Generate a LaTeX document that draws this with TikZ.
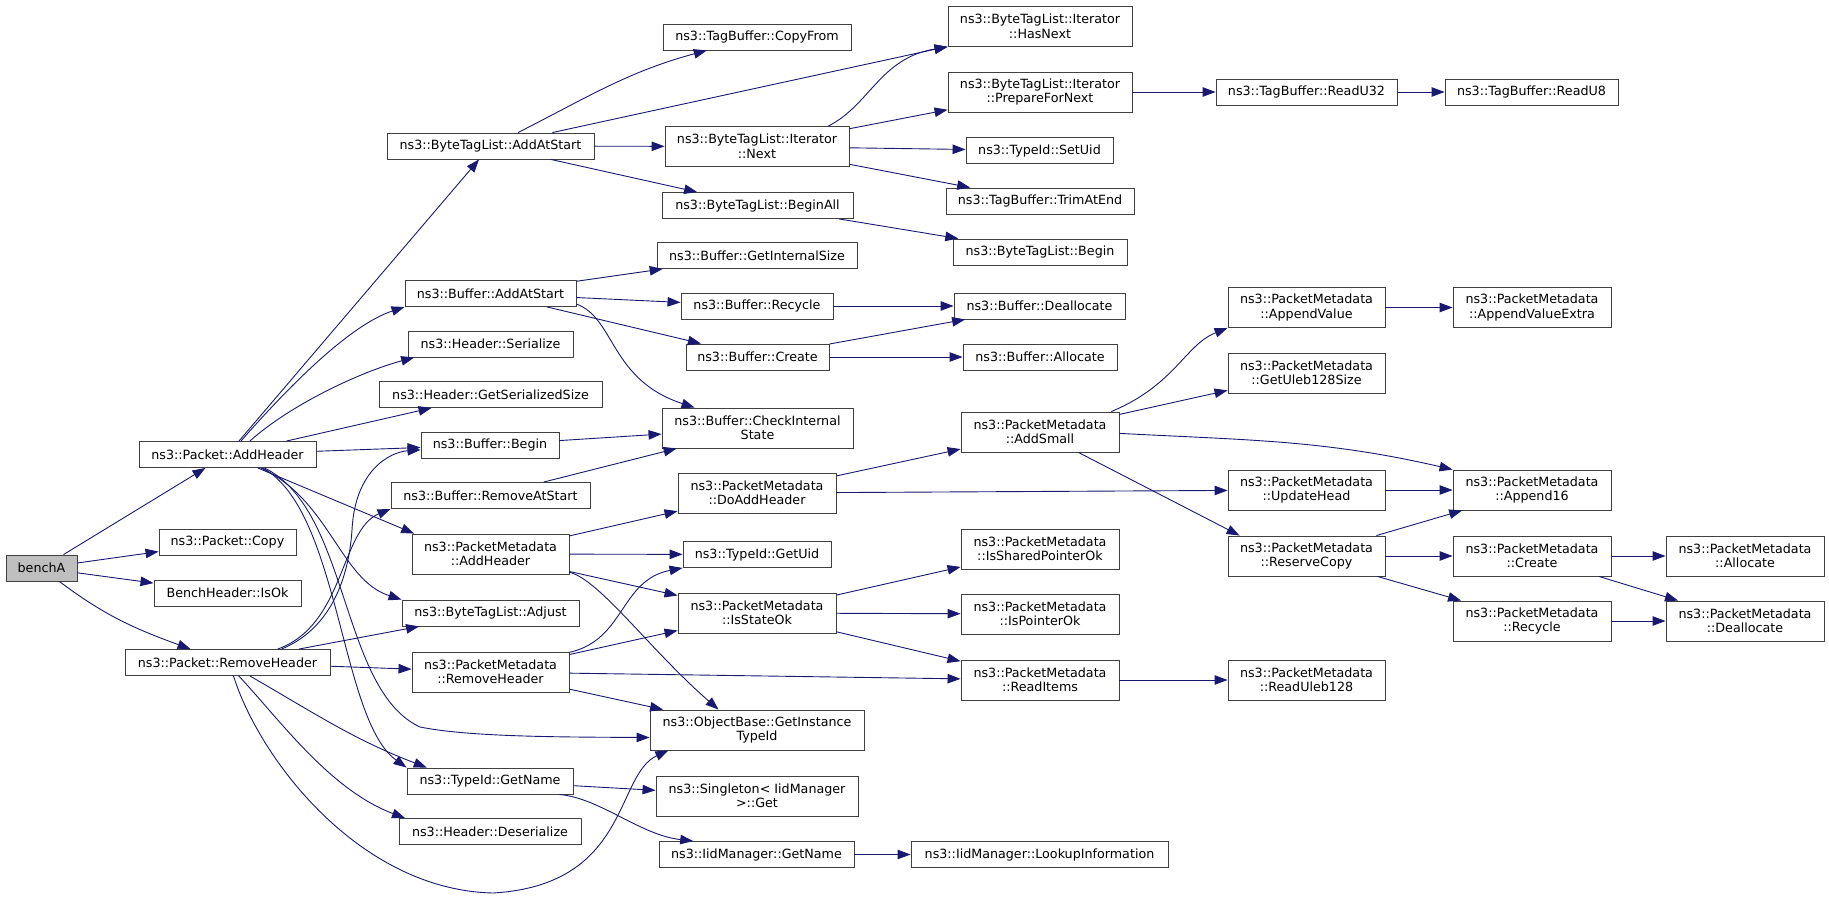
\documentclass[tikz,border=0pt]{standalone}
\usepackage{fontspec}
\setmainfont{DejaVu Sans}
\usetikzlibrary{arrows.meta}
\definecolor{edgeblue}{HTML}{191970}

\begin{document}
\begin{tikzpicture}[x=1pt, y=-1pt,
  fn/.style={draw=black!75, line width=0.9pt, fill=white, inner sep=0pt,
    minimum height=26pt, align=center, font=\fontsize{12.7}{14.5}\selectfont},
  fn2/.style={fn, minimum height=40pt},
  call/.style={draw=edgeblue, line width=0.9pt, -{Triangle[length=13pt,width=9.5pt]}}]
\useasboundingbox (0,0) rectangle (1829,899);

% one-line boxes
\node[fn, fill=black!25, minimum width=71] (benchA) at (41.5,568) {benchA};
\foreach \n/\x/\y/\w/\t in {
  pah/227.5/454.5/177/{ns3::Packet::AddHeader}, pcopy/227.5/542/137/{ns3::Packet::Copy},
  isok/227.5/593/147/{BenchHeader::IsOk}, prh/227.5/662.5/205/{ns3::Packet::RemoveHeader},
  btaas/490.5/146/207/{ns3::ByteTagList::AddAtStart}, baas/490.5/293.5/171/{ns3::Buffer::AddAtStart},
  hser/490.5/344/165/{ns3::Header::Serialize}, hgss/490.5/394.5/223/{ns3::Header::GetSerializedSize},
  bbeg/490/445/138/{ns3::Buffer::Begin}, brem/490.5/495.5/199/{ns3::Buffer::RemoveAtStart},
  btadj/490.5/613/177/{ns3::ByteTagList::Adjust}, tgn/490/781/166/{ns3::TypeId::GetName},
  hdes/490/831.5/182/{ns3::Header::Deserialize}, cpf/757/37/188/{ns3::TagBuffer::CopyFrom},
  ball/757.5/205.5/191/{ns3::ByteTagList::BeginAll}, gis/757/255.5/200/{ns3::Buffer::GetInternalSize},
  brec/757/306/152/{ns3::Buffer::Recycle}, bcre/757.5/357/143/{ns3::Buffer::Create},
  guid/757/554.5/148/{ns3::TypeId::GetUid}, iign/756.5/854.5/195/{ns3::IidManager::GetName},
  suid/1039.5/150.5/147/{ns3::TypeId::SetUid}, tae/1040/201/188/{ns3::TagBuffer::TrimAtEnd},
  btbeg/1040/252/174/{ns3::ByteTagList::Begin}, bdea/1039.5/306/171/{ns3::Buffer::Deallocate},
  balloc/1040/357/154/{ns3::Buffer::Allocate}, lkup/1039.5/854.5/257/{ns3::IidManager::LookupInformation},
  ru32/1306.5/92/181/{ns3::TagBuffer::ReadU32}, ru8/1531.5/92/173/{ns3::TagBuffer::ReadU8}}
  \node[fn, minimum width=\w] (\n) at (\x,\y) {\t};

% two-line boxes
\foreach \n/\x/\y/\w/\t in {
  pmah/490.5/554/157/{ns3::PacketMetadata\\::AddHeader}, pmrh/490.5/672/157/{ns3::PacketMetadata\\::RemoveHeader},
  itn/757/146.5/184/{ns3::ByteTagList::Iterator\\::Next}, cis/757.5/428/191/{ns3::Buffer::CheckInternal\\State},
  dah/757/493/158/{ns3::PacketMetadata\\::DoAddHeader}, iso/757/613/158/{ns3::PacketMetadata\\::IsStateOk},
  gitid/757/730/214/{ns3::ObjectBase::GetInstance\\TypeId}, sget/757/796/202/{ns3::Singleton< IidManager\\>::Get},
  hasn/1040/26.5/184/{ns3::ByteTagList::Iterator\\::HasNext}, pfn/1040/92/184/{ns3::ByteTagList::Iterator\\::PrepareForNext},
  asm/1040/432/158/{ns3::PacketMetadata\\::AddSmall}, ispo/1040/549/158/{ns3::PacketMetadata\\::IsSharedPointerOk},
  ipo/1040/614/158/{ns3::PacketMetadata\\::IsPointerOk}, ritm/1040/680/158/{ns3::PacketMetadata\\::ReadItems},
  apv/1306.5/307.5/157/{ns3::PacketMetadata\\::AppendValue}, gus/1306.5/373/157/{ns3::PacketMetadata\\::GetUleb128Size},
  uph/1306.5/490/157/{ns3::PacketMetadata\\::UpdateHead}, rcp/1306.5/556/157/{ns3::PacketMetadata\\::ReserveCopy},
  rul/1306.5/680/157/{ns3::PacketMetadata\\::ReadUleb128}, apve/1532/307.5/158/{ns3::PacketMetadata\\::AppendValueExtra},
  a16/1532/490/158/{ns3::PacketMetadata\\::Append16}, pmcre/1532/556/158/{ns3::PacketMetadata\\::Create},
  pmrec/1532/621/158/{ns3::PacketMetadata\\::Recycle}, pmall/1745/556/158/{ns3::PacketMetadata\\::Allocate},
  pmdea/1745/621/158/{ns3::PacketMetadata\\::Deallocate}}
  \node[fn2, minimum width=\w] (\n) at (\x,\y) {\t};

% straight calls
\foreach \a/\b in {benchA/pah, benchA/pcopy, benchA/isok, pah/btaas, pah/hgss, pah/bbeg,
  btaas/hasn, btaas/itn, btaas/ball, itn/pfn, itn/suid, itn/tae, ball/btbeg, pfn/ru32, ru32/ru8,
  baas/gis, baas/brec, baas/bcre, brec/bdea, bcre/bdea, bcre/balloc, bbeg/cis, brem/cis,
  pmah/dah, pmah/guid, pmah/iso, pmrh/iso, pmrh/ritm, pmrh/gitid, dah/asm, dah/uph, asm/gus,
  apv/apve, uph/a16, rcp/a16, rcp/pmcre, rcp/pmrec, pmcre/pmall, pmcre/pmdea, pmrec/pmdea,
  iso/ispo, iso/ipo, iso/ritm, ritm/rul, tgn/sget, iign/lkup, prh/btadj, prh/pmrh}
  \draw[call] (\a) -- (\b);
\draw[call] (pah.-24) -- (pmah.165);
\draw[call] (asm.-28.4) -- (rcp.163.7);

% bent calls
\draw[call] (benchA) to[out=-37, in=160] (prh);
\draw[call] (pah.45) .. controls (290,385) and (350,325) .. (baas.south west);
\draw[call] (pah.31) .. controls (290,405) and (360,372) .. (hser.-170);
\draw[call] (pah.-22) .. controls (330,500) and (340,580) .. (btadj.north west);
\draw[call] (pah.-21) .. controls (340,510) and (340,720) .. (tgn.north west);
\draw[call] (pah.-20) .. controls (350,510) and (340,690) .. (420,727)
  .. controls (470,737) and (560,737) .. (gitid.-176);
\draw[call] (btaas.26) to[out=27, in=-165] (cpf.-165);
\draw[call] (itn.16.5) .. controls (870,105) and (880,58) .. (hasn.south west);
\draw[call] (baas.-7.6) .. controls (615,318) and (610,380) .. (cis.162);
\draw[call] (pmah.-13) .. controls (600,580) and (650,650) .. (gitid.152);
\draw[call] (pmrh.14) .. controls (625,640) and (620,580) .. (guid.south west);
\draw[call] (asm.16.6) .. controls (1175,385) and (1185,345) .. (apv.south west);
\draw[call] (asm.-1) to[out=-3, in=167] (a16.north west);
\draw[call] (tgn.-11) .. controls (600,798) and (640,835) .. (iign.168.5);
\draw[call] (prh.-31) to[out=-30, in=159] (tgn.168);
\draw[call] (prh.-50) .. controls (280,720) and (330,790) .. (hdes.171.6);
\draw[call] (prh.-66) .. controls (260,760) and (360,890) .. (493,893)
  .. controls (630,885) and (615,775) .. (gitid.-167.5);
\draw[call] (prh.14) .. controls (340,625) and (350,560) .. (352,530)
  .. controls (355,470) and (390,452) .. (bbeg.-176);
\draw[call] (prh.15) .. controls (345,625) and (340,530) .. (brem.south west);
\end{tikzpicture}
\end{document}
